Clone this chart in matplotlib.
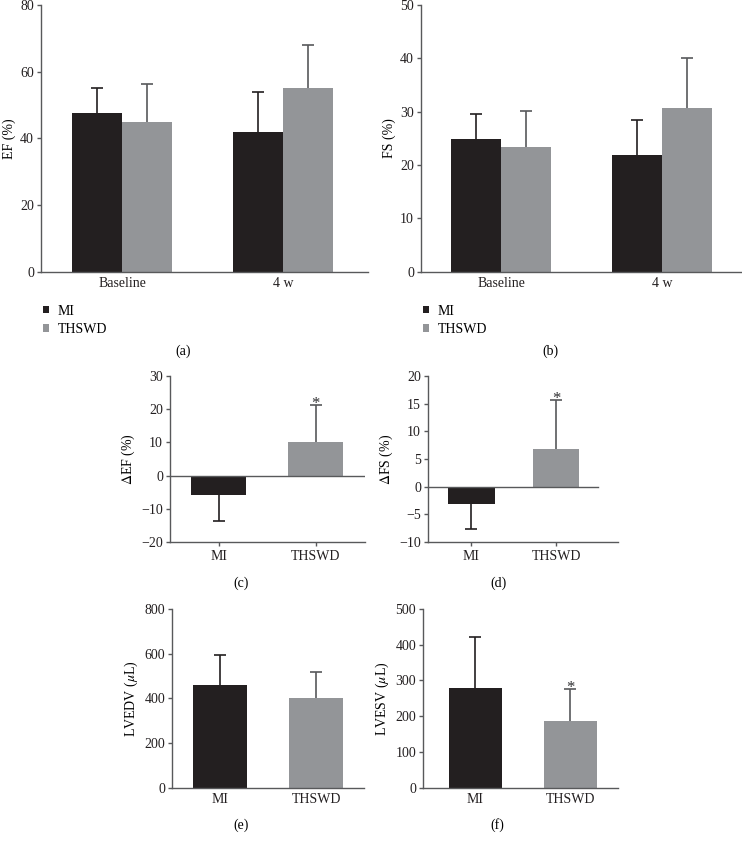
import matplotlib.pyplot as plt
import numpy as np

plt.rcParams['font.family'] = ['Liberation Serif', 'DejaVu Serif']
plt.rcParams['mathtext.fontset'] = 'stix'

W, H = 742, 843
BLACK = '#231f20'
GRAY = '#939598'
AXIS = '#58595b'

groups = ['Baseline', '4 w']
ef_mi = [47.5, 41.8]
ef_mi_err = [7.5, 12.0]
ef_thswd = [45.0, 55.0]
ef_thswd_err = [11.3, 13.0]

fs_mi = [24.8, 21.8]
fs_mi_err = [4.7, 6.7]
fs_thswd = [23.4, 30.6]
fs_thswd_err = [6.8, 9.4]

cats = ['MI', 'THSWD']
d_ef = [-5.8, 10.0]
d_ef_err = [7.8, 11.2]
d_fs = [-3.1, 6.8]
d_fs_err = [4.5, 8.9]
lvedv = [462, 403]
lvedv_err = [131, 113]
lvesv = [280, 188]
lvesv_err = [143, 87]


def make_ax(fig, l, r, t, b):
    ax = fig.add_axes([l / W, 1 - b / H, (r - l) / W, (b - t) / H])
    for s in ['top', 'right']:
        ax.spines[s].set_visible(False)
    for s in ['left', 'bottom']:
        ax.spines[s].set_color(AXIS)
        ax.spines[s].set_linewidth(1.0)
    ax.tick_params(axis='y', direction='out', length=3, width=1, color=AXIS,
                   labelsize=10, pad=2, labelcolor='#231f20')
    ax.tick_params(axis='x', length=0, labelsize=10, pad=4, labelcolor='#231f20')
    return ax


def errs(ax, x, y, e, color):
    # one-sided error bar: away from zero only
    for xi, yi, ei in zip(np.atleast_1d(x), y, e):
        end = yi - ei if yi < 0 else yi + ei
        ax.vlines(xi, yi, end, color=color, lw=1.2, zorder=1)
        ax.plot([xi], [end], marker='_', ms=8, mew=1.2, color=color, zorder=1)


fig = plt.figure(figsize=(W / 100, H / 100), dpi=100)

# (a) and (b): grouped bars
for (l, r), ylim, yt, lab, mi, mie, th, the, xl, letter_x, letter in [
        ((41, 368), 80, [0, 20, 40, 60, 80], 'EF (%)', ef_mi, ef_mi_err, ef_thswd, ef_thswd_err, (-0.503, 1.528), 183, '(a)'),
        ((421, 741), 50, [0, 10, 20, 30, 40, 50], 'FS (%)', fs_mi, fs_mi_err, fs_thswd, fs_thswd_err, (-0.497, 1.49), 550, '(b)')]:
    ax = make_ax(fig, l, r, 5, 271.7)
    x = np.arange(len(groups))
    w = 0.31
    b1 = ax.bar(x - w / 2, mi, w, color=BLACK, zorder=2, label='MI')
    b2 = ax.bar(x + w / 2, th, w, color=GRAY, zorder=2, label='THSWD')
    errs(ax, x - w / 2, mi, mie, BLACK)
    errs(ax, x + w / 2, th, the, AXIS)
    ax.set_xlim(*xl)
    ax.set_ylim(0, ylim)
    ax.set_yticks(yt)
    ax.set_xticks(x)
    ax.set_xticklabels(groups)
    ax.set_ylabel(lab, fontsize=10, labelpad=3)
    ax.legend(handles=[b1, b2], loc='upper left',
              bbox_to_anchor=((l - 4) / W, 1 - 299 / H), bbox_transform=fig.transFigure,
              frameon=False, fontsize=10, handlelength=0.45, handleheight=0.45,
              handletextpad=0.65, labelspacing=0.4, borderaxespad=0)
    fig.text(letter_x / W, 1 - 351 / H, letter, ha='center', va='center', fontsize=10)

# (c)-(f): two-bar charts
panels = [
    ((170, 365), (376, 542), (-20, 30), [-20, -10, 0, 10, 20, 30], r'$\Delta$EF (%)', d_ef, d_ef_err, 0.57, (-0.5, 1.51), [False, True], 241, 583, '(c)', True, None),
    ((428, 618), (376, 542), (-10, 20), [-10, -5, 0, 5, 10, 15, 20], r'$\Delta$FS (%)', d_fs, d_fs_err, 0.55, (-0.51, 1.73), [False, True], 498, 583, '(d)', True, 598),
    ((172, 364), (609, 787.7), (0, 800), [0, 200, 400, 600, 800], r'LVEDV ($\mu$L)', lvedv, lvedv_err, 0.56, (-0.5, 1.5), [False, False], 241, 825, '(e)', False, None),
    ((423, 618), (609, 787.7), (0, 500), [0, 100, 200, 300, 400, 500], r'LVESV ($\mu$L)', lvesv, lvesv_err, 0.56, (-0.55, 1.5), [False, True], 497, 825, '(f)', False, None),
]
for (l, r), (t, b), yl, yt, lab, vals, ev, w, xl, star, lx, ly, letter, xticks, zero_end in panels:
    ax = make_ax(fig, l, r, t, b)
    x = np.arange(len(cats))
    ax.bar(x, vals, w, color=[BLACK, GRAY], zorder=2)
    errs(ax, x[:1], vals[:1], ev[:1], BLACK)
    errs(ax, x[1:], vals[1:], ev[1:], AXIS)
    ax.set_xlim(*xl)
    ax.set_ylim(*yl)
    ax.set_yticks(yt)
    ax.set_xticks(x)
    ax.set_xticklabels(cats)
    if xticks:
        ax.tick_params(axis='x', length=3, width=1, color=AXIS, pad=3)
        xmax = 1.0 if zero_end is None else (zero_end - l) / (r - l)
        ax.axhline(0, xmin=0, xmax=xmax, color=AXIS, lw=1.0, zorder=3)
    ax.set_ylabel(lab, fontsize=10, labelpad=3)
    for i, s in enumerate(star):
        if s:
            top = vals[i] + ev[i]
            ax.annotate('*', (x[i], top), xytext=(0, -5), textcoords='offset points',
                        ha='center', va='bottom', fontsize=12, color='#2e2e30')
    fig.text(lx / W, 1 - ly / H, letter, ha='center', va='center', fontsize=10)

fig.savefig('out.png', dpi=100)
